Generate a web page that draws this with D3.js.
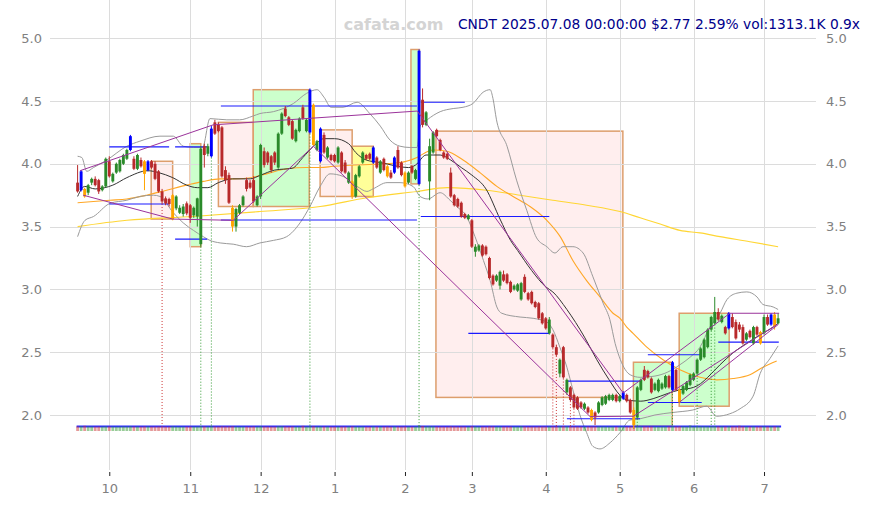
<!DOCTYPE html>
<html><head><meta charset="utf-8">
<script src="https://cdn.jsdelivr.net/npm/d3@7"></script>
<style>body{margin:0;background:#fff;}svg{display:block;font-family:"DejaVu Sans",sans-serif;}</style>
</head><body><svg id="c" width="871" height="505"></svg>
<script>
// ---- data ----
const titleText = "CNDT 2025.07.08 00:00:00 $2.77 2.59% vol:1313.1K 0.9x";
const watermark = "cafata.com";
const tickIdx = [9,32,52,73,93,112,133,154,175,195];
const tickLabels = ["10","11","12","1","2","3","4","5","6","7"];
const yTicks = [2.0,2.5,3.0,3.5,4.0,4.5,5.0];

const opens = [3.85,3.79,3.80,3.77,3.85,3.88,3.87,3.79,3.82,4.02,
3.86,3.93,3.94,4.00,4.04,4.11,4.04,3.96,4.03,4.02,
3.95,4.02,4.00,3.94,3.78,3.725,3.72,3.56,3.645,3.61,
3.60,3.685,3.67,3.59,3.58,3.36,4.14,4.08,4.06,4.33,
4.31,4.29,3.95,3.91,3.65,3.50,3.61,3.67,3.87,3.85,
3.87,3.67,3.74,4.10,4.09,4.06,4.09,3.97,4.24,4.44,
4.37,4.34,4.18,4.26,4.45,4.26,4.25,4.47,4.11,4.02,
4.23,4.05,4.07,4.07,4.01,4.09,4.01,3.85,3.86,3.74,
3.90,4.01,4.07,4.08,4.01,4.05,3.93,4.04,3.98,3.93,
3.93,4.11,4.01,3.93,3.85,3.98,3.88,3.84,4.51,4.31,
3.86,4.09,4.27,4.19,4.09,4.08,3.93,3.75,3.72,3.69,
3.60,3.56,3.55,3.30,3.31,3.35,3.34,3.25,3.11,3.07,
3.03,3.12,3.12,3.06,3.00,2.99,2.92,3.10,2.97,2.98,
2.90,2.89,2.81,2.77,2.65,2.64,2.54,2.33,2.54,2.18,
2.22,2.16,2.14,2.10,2.05,2.06,2.04,2.02,2.02,2.08,
2.09,2.12,2.12,2.16,2.11,2.13,2.16,2.12,2.04,1.98,
2.20,2.36,2.35,2.29,2.20,2.19,2.21,2.22,2.31,2.20,
2.36,2.20,2.17,2.20,2.24,2.28,2.33,2.44,2.46,2.54,
2.68,2.73,2.82,2.74,2.70,2.69,2.78,2.74,2.72,2.70,
2.60,2.67,2.57,2.70,2.66,2.65,2.78,2.72,2.80,2.73];
const highs = [3.99,3.95,3.81,3.84,3.89,3.90,3.88,3.83,4.05,4.06,
3.93,4.01,4.04,4.08,4.12,4.23,4.06,4.08,4.05,4.03,
4.03,4.03,4.02,3.95,3.80,3.74,3.73,3.76,3.75,3.67,
3.68,3.70,3.68,3.66,3.73,4.14,4.16,4.16,4.30,4.35,
4.33,4.30,3.98,3.93,3.67,3.65,3.68,3.75,3.89,3.87,
3.90,3.75,4.16,4.13,4.10,4.07,4.10,4.25,4.41,4.46,
4.38,4.35,4.28,4.37,4.47,4.36,4.60,4.48,4.19,4.29,
4.25,4.14,4.08,4.08,4.14,4.10,4.03,3.94,3.87,3.92,
3.99,4.10,4.08,4.09,4.14,4.06,4.03,4.05,3.99,3.95,
4.06,4.14,4.02,3.94,3.94,3.99,3.96,4.91,4.60,4.42,
4.20,4.26,4.28,4.20,4.10,4.09,3.97,3.76,3.73,3.70,
3.61,3.60,3.56,3.36,3.36,3.36,3.35,3.26,3.12,3.12,
3.15,3.15,3.13,3.07,3.04,3.05,3.06,3.12,2.98,2.99,
2.91,2.90,2.82,2.78,2.78,2.65,2.56,2.45,2.55,2.29,
2.23,2.17,2.15,2.11,2.10,2.07,2.05,2.03,2.11,2.15,
2.16,2.17,2.17,2.17,2.16,2.19,2.17,2.13,2.06,2.23,
2.29,2.39,2.36,2.30,2.26,2.29,2.26,2.32,2.32,2.43,
2.37,2.21,2.24,2.27,2.33,2.34,2.45,2.54,2.61,2.69,
2.79,2.94,2.85,2.80,2.71,2.82,2.81,2.76,2.74,2.72,
2.66,2.68,2.71,2.71,2.67,2.80,2.80,2.81,2.82,2.81];
const lows = [3.77,3.78,3.73,3.75,3.83,3.82,3.76,3.78,3.81,3.89,
3.85,3.92,3.93,3.99,4.03,4.10,3.95,3.95,3.97,3.79,
3.94,3.96,3.87,3.77,3.68,3.67,3.66,3.55,3.63,3.60,
3.58,3.59,3.53,3.57,3.50,3.34,3.97,4.06,4.05,4.23,
4.25,3.89,3.84,3.68,3.46,3.46,3.60,3.66,3.78,3.80,
3.69,3.66,3.72,3.97,3.99,3.93,3.99,3.96,4.23,4.37,
4.30,4.19,4.17,4.25,4.35,4.25,4.24,4.14,4.10,4.01,
4.08,4.04,4.02,4.01,4.00,3.93,3.92,3.84,3.72,3.73,
3.89,4.00,4.03,4.03,4.00,3.96,3.92,3.94,3.89,3.88,
3.92,3.96,3.90,3.81,3.84,3.92,3.87,3.83,4.29,4.30,
3.71,4.08,4.21,4.10,4.04,4.03,3.73,3.66,3.65,3.57,
3.56,3.55,3.33,3.26,3.30,3.26,3.27,3.08,3.03,3.06,
3.00,3.06,3.04,2.97,2.99,2.98,2.91,2.97,2.91,2.88,
2.85,2.76,2.72,2.68,2.64,2.53,2.47,2.30,2.29,2.16,
2.11,2.05,2.04,2.05,2.04,2.01,1.95,1.92,2.01,2.07,
2.08,2.11,2.11,2.10,2.10,2.12,2.10,2.01,1.89,1.97,
2.19,2.27,2.29,2.17,2.19,2.18,2.20,2.21,2.21,2.19,
2.19,2.09,2.16,2.19,2.23,2.27,2.32,2.43,2.45,2.53,
2.67,2.72,2.75,2.73,2.64,2.68,2.69,2.60,2.66,2.56,
2.59,2.61,2.56,2.63,2.56,2.64,2.71,2.71,2.68,2.72];
const closes = [3.78,3.94,3.74,3.83,3.88,3.83,3.78,3.82,4.04,3.90,
3.92,4.00,4.03,4.07,4.11,4.22,3.96,4.07,3.98,3.92,
4.02,3.97,3.88,3.78,3.70,3.685,3.68,3.75,3.74,3.65,
3.66,3.605,3.57,3.65,3.725,4.12,4.07,4.14,4.28,4.24,
4.26,3.90,3.87,3.69,3.50,3.64,3.67,3.74,3.80,3.81,
3.70,3.74,4.15,3.99,4.01,3.95,4.01,4.24,4.40,4.38,
4.31,4.20,4.27,4.36,4.36,4.35,4.59,4.15,4.18,4.28,
4.09,4.13,4.03,4.02,4.13,3.94,3.93,3.93,3.74,3.91,
3.98,4.09,4.04,4.04,4.13,3.97,4.02,3.95,3.90,3.89,
4.05,3.97,3.91,3.82,3.93,3.93,3.95,4.90,4.31,4.41,
4.14,4.25,4.22,4.11,4.05,4.04,3.74,3.67,3.66,3.58,
3.57,3.59,3.34,3.34,3.35,3.27,3.28,3.09,3.04,3.11,
3.14,3.07,3.05,2.98,3.03,3.04,3.05,2.98,2.92,2.89,
2.86,2.77,2.73,2.69,2.76,2.54,2.48,2.44,2.30,2.28,
2.12,2.06,2.05,2.06,2.09,2.02,1.96,1.98,2.10,2.14,
2.15,2.16,2.16,2.11,2.15,2.18,2.11,2.02,1.92,2.22,
2.28,2.28,2.30,2.18,2.25,2.28,2.25,2.31,2.22,2.42,
2.20,2.10,2.23,2.26,2.32,2.33,2.44,2.53,2.60,2.68,
2.78,2.82,2.76,2.79,2.65,2.81,2.70,2.61,2.68,2.57,
2.65,2.62,2.70,2.64,2.57,2.78,2.72,2.80,2.70,2.77];
const volumes = [1450,1620,3900,1280,1150,1090,1240,980,1710,1330,1060,1120,1250,1390,1470,1880,1210,1160,1040,1520,
1330,1080,1270,1410,1560,1190,1050,1640,1230,990,1010,1150,1320,1100,1270,3100,1450,1120,1980,1390,
1180,2050,1510,1620,1840,1300,1020,1090,1160,1010,1380,1070,2260,1400,1150,1230,1080,2110,1870,1500,
1240,1310,1090,1170,3800,1200,2350,1950,1310,1460,1290,1180,1040,1020,1130,1280,1190,1240,1550,1270,
1150,1220,1010,980,1330,1190,1110,1230,1370,1060,1410,1290,1180,1510,1120,1080,1170,6200,2900,1640,
2400,1720,1300,1190,1080,1050,1980,1520,1240,1430,1160,1050,2340,1570,1240,1180,1120,1920,1460,1170,
1330,1140,1210,1280,1090,1150,2600,1370,1160,1230,1110,1560,1420,1350,1290,1700,1480,1830,2250,1740,
1510,1430,1280,1200,1160,1350,1620,1490,1310,1220,1180,1140,1090,1050,1110,1260,1170,1380,2100,1950,
1420,1390,1210,1300,1150,1120,1090,1180,1250,1860,1470,1690,1330,1210,7800,1160,1740,1620,1800,1550,
1890,2400,1520,1390,1300,1650,1410,1580,4600,1370,1220,1280,1350,1190,1420,1600,1260,1380,1510,1313];
const blueCandles = [1,15,20,38,66,69,84,90,97,155,169,185,197];
const orangeCandles = [2,19,27,44,67,78,88,93,146,158,171,194,198];

// overlay lines: [index, price]
const midBand = [[0,3.74],[2,3.82],[5,3.80],[10,3.83],[14,3.89],[20,3.945],[23,3.93],[27,3.89],[31,3.83],[34,3.81],[37,3.81],[40,3.85],[44,3.88],[49,3.88],[52,3.91],[56,3.95],[61,3.965],[64,4.05],[67,4.14],[70,4.20],[73,4.20],[77,4.16],[79,4.09],[82,4.03],[86,4.01],[94,3.97],[96,3.99],[99,4.07],[103,4.07],[106,4.03],[109,3.97],[112,3.91],[116,3.80],[120,3.56],[123,3.39],[125,3.31],[129,3.15],[133,3.02],[135,2.98],[139,2.84],[144,2.62],[147.5,2.44],[151,2.28],[154,2.16],[156,2.12],[160,2.11],[163.5,2.13],[167.5,2.17],[171,2.20],[175,2.22],[177,2.25],[179,2.30],[182.5,2.40],[186,2.49],[190,2.57],[194,2.64],[197.6,2.70],[199,2.73]];
const upperBand = [[0,4.06],[1.2,4.05],[2.6,3.94],[4.5,3.97],[8.3,4.03],[14,4.14],[17.7,4.18],[23.4,4.22],[27.2,4.22],[30,4.14],[33,4.13],[35.5,4.13],[37.6,4.36],[42.4,4.35],[46,4.35],[49.8,4.38],[51.8,4.40],[55.6,4.415],[61.3,4.48],[65,4.56],[68,4.59],[70,4.53],[72,4.45],[75.4,4.45],[79.4,4.49],[83,4.40],[86,4.30],[88.7,4.19],[91.6,4.14],[94.4,4.13],[96.4,4.13],[97.3,4.30],[99.3,4.35],[103,4.415],[106.7,4.44],[109.5,4.45],[112.3,4.48],[115.2,4.57],[117.2,4.59],[118,4.52],[119,4.35],[122,4.14],[124.7,3.87],[127.6,3.63],[130.4,3.41],[133.3,3.34],[135.6,3.29],[137.9,3.34],[140.7,3.34],[143.6,3.29],[146.4,3.10],[149.3,2.89],[151.2,2.76],[152.7,2.57],[154.2,2.44],[157,2.32],[159.8,2.30],[164,2.31],[167.5,2.34],[171.1,2.40],[174,2.46],[176.8,2.54],[179.6,2.70],[182.5,2.81],[184.5,2.92],[187.3,2.97],[190.1,2.98],[193,2.94],[194.7,2.88],[197.6,2.86],[199,2.84]];
const lowerBand = [[0,3.42],[2.1,3.55],[4.5,3.58],[9.2,3.685],[14,3.71],[17.7,3.74],[21.5,3.75],[23.4,3.74],[27.2,3.61],[30,3.53],[32.9,3.47],[35.7,3.42],[37.6,3.39],[40.5,3.37],[44.2,3.36],[48,3.34],[51.8,3.37],[55.6,3.39],[59.4,3.42],[63.2,3.53],[66,3.66],[68.9,3.82],[71.7,3.92],[75.4,3.90],[79.4,3.82],[82.2,3.78],[83.9,3.80],[87.9,3.85],[91.6,3.85],[95.3,3.82],[97.3,3.74],[99.5,3.72],[103,3.77],[105.8,3.71],[107.7,3.66],[110.5,3.58],[112.9,3.42],[115.3,3.23],[117.2,3.07],[119.1,2.86],[120.5,2.81],[125.7,2.78],[129.4,2.77],[133.3,2.74],[135,2.68],[137,2.54],[139,2.38],[140.7,2.20],[142.7,2.00],[144.6,1.86],[146.4,1.75],[148.4,1.73],[151.3,1.78],[154.1,1.86],[156.9,1.96],[159.8,1.97],[164,2.00],[169.1,2.02],[174.8,2.04],[178.7,2.07],[181.5,1.99],[185.3,2.01],[188.2,2.05],[191.9,2.15],[193.9,2.33],[196.7,2.45],[199,2.55]];
const orangeMA = [[0,3.69],[4.5,3.70],[9.2,3.71],[14,3.72],[19.6,3.75],[25.3,3.79],[31,3.83],[35.7,3.86],[40.5,3.88],[44.2,3.88],[48,3.885],[53.7,3.92],[59.4,3.96],[65,3.97],[68.9,3.97],[72.6,3.98],[91.6,4.01],[96.4,4.05],[99.6,4.10],[101,4.11],[104.9,4.10],[109.5,4.03],[114.3,3.93],[119.1,3.82],[123.7,3.74],[128.5,3.66],[133.3,3.55],[137.1,3.42],[140.7,3.23],[144.6,3.07],[148.4,2.94],[152.1,2.81],[154.1,2.77],[156,2.70],[157.8,2.65],[161.7,2.54],[166.3,2.44],[171.1,2.36],[176.8,2.30],[181.6,2.28],[186.2,2.29],[191,2.32],[194.7,2.38],[198.6,2.43]];
const yellowMA = [[0,3.50],[14,3.55],[32.8,3.58],[51.8,3.62],[68.9,3.66],[82.2,3.73],[96.4,3.78],[105,3.81],[116.2,3.79],[125.7,3.75],[135,3.71],[144.6,3.67],[154.1,3.62],[159.8,3.57],[165.5,3.52],[171.1,3.47],[176.8,3.45],[182.5,3.42],[191,3.38],[199,3.34]];
const purpleLines = [
  [[0.7,3.945],[38.5,4.31],[96.5,4.42],[155,2.175],[185.3,2.81],[199.3,2.81]],
  [[1.6,3.75],[27,3.56],[44.2,3.55],[67,4.14],[145.6,1.987],[157.9,1.99],[198.6,2.72]],
  [[170.9,2.10],[199,2.72]]
];
// horizontal levels: [fromIndex, toIndex, price]
const levels = [[9,26,4.135],[27.7,36.8,4.135],[9,26,3.68],[27.7,36.8,3.40],[40.7,96.4,4.46],[40.7,96.4,3.553],[97.5,110,4.49],[97.5,134,3.58],[111,134,2.65],[139,159.8,2.27],[139,159.8,1.97],[162,177.3,2.48],[162,177.3,2.10],[182,199.2,2.58]];
// boxes: [fromIndex, toIndex, top, bottom, kind]
const boxes = [[20.9,27,4.02,3.56,"pink"],[32,35,4.16,3.34,"green"],[40,49.9,4.33,3.66,"pink"],[49.9,65.8,4.59,3.66,"green"],[68.9,78,4.27,3.74,"pink"],[78,84,4.14,3.74,"yellow"],[94.7,97.1,4.91,3.84,"green"],[101.8,154.9,4.26,2.14,"pink"],[157.9,168.9,2.42,1.91,"green"],[170.9,185.1,2.81,2.07,"green"]];
const dotsRed = [24,135,136,138,140,141];
const dotsGreen = [35,38,66,97,158,159,169,176,180,181];

// ---- drawing ----
const svg = d3.select("#c");
const x = d3.scaleLinear().domain([0,199]).range([77.6,778.1]);
const y = d3.scaleLinear().domain([2,5]).range([415,38.2]);
const volBase = 431;
const vh = d3.scaleLog().domain([1,10000]).range([0,5.8]);

const boxFill = {pink:"#ffeeee", green:"#ccffcc", yellow:"#ffff99"};
svg.append("g").selectAll("rect").data(boxes).join("rect")
  .attr("x",d=>x(d[0])).attr("y",d=>y(d[2]))
  .attr("width",d=>x(d[1])-x(d[0])).attr("height",d=>y(d[3])-y(d[2]))
  .attr("fill",d=>boxFill[d[4]]).attr("stroke","#dd9e6c").attr("stroke-width",1.5);

// grid
const grid = svg.append("g").attr("stroke","#dcdcdc").attr("stroke-width",1);
grid.selectAll("line.h").data(yTicks).join("line").attr("class","h")
  .attr("x1",50).attr("x2",816).attr("y1",d=>Math.round(y(d))+0.5).attr("y2",d=>Math.round(y(d))+0.5);
grid.selectAll("line.v").data(tickIdx).join("line").attr("class","v")
  .attr("y1",0).attr("y2",470).attr("x1",d=>Math.round(x(d))+0.5).attr("x2",d=>Math.round(x(d))+0.5);

// axes
const xAxis = d3.axisBottom(x).tickValues(tickIdx).tickFormat((d,i)=>tickLabels[i]).tickSize(4).tickPadding(8);
const gx = svg.append("g").attr("transform","translate(0,472)").call(xAxis);
gx.select(".domain").remove();
gx.selectAll("line").attr("stroke","#222");
gx.selectAll("text").attr("fill","#808080").attr("font-size",13).attr("font-family","DejaVu Sans");
const gl = svg.append("g").attr("transform","translate(45,0)").call(d3.axisLeft(y).tickValues(yTicks).tickFormat(d3.format(".1f")).tickSize(0).tickPadding(3));
const gr = svg.append("g").attr("transform","translate(823,0)").call(d3.axisRight(y).tickValues(yTicks).tickFormat(d3.format(".1f")).tickSize(0).tickPadding(3));
[gl,gr].forEach(g=>{g.select(".domain").remove();g.selectAll("text").attr("fill","#808080").attr("font-size",13).attr("font-family","DejaVu Sans");});

// lines
const line = d3.line().x(d=>x(d[0])).y(d=>y(d[1])).curve(d3.curveMonotoneX);
const straight = d3.line().x(d=>x(d[0])).y(d=>y(d[1]));
svg.append("path").attr("d",line(yellowMA)).attr("fill","none").attr("stroke","#ffd633").attr("stroke-width",1.1);
svg.append("path").attr("d",line(orangeMA)).attr("fill","none").attr("stroke","#ffa726").attr("stroke-width",1.1);
[upperBand,lowerBand].forEach(b=>svg.append("path").attr("d",line(b)).attr("fill","none").attr("stroke","#9a9a9a").attr("stroke-width",1));
svg.append("path").attr("d",line(midBand)).attr("fill","none").attr("stroke","#333").attr("stroke-width",1);

// volume
const vg = svg.append("g");
const vMean = d3.mean(volumes);
vg.append("line").attr("x1",x(0)-1).attr("x2",x(199)+3).attr("y1",volBase-vh(vMean)).attr("y2",volBase-vh(vMean))
  .attr("stroke","#2a2aff").attr("stroke-width",2);
vg.selectAll("rect").data(volumes).join("rect")
  .attr("x",(d,i)=>x(i)-1.4).attr("width",2.8)
  .attr("y",d=>volBase-vh(d)).attr("height",d=>vh(d))
  .attr("fill",(d,i)=>closes[i]>=opens[i]?"#339933":"#cc3333").attr("opacity",0.5);

// dotted verticals
const dg = svg.append("g").attr("stroke-dasharray","1,2").attr("stroke-width",1);
dg.selectAll("line.r").data(dotsRed).join("line").attr("class","r")
  .attr("x1",d=>x(d)).attr("x2",d=>x(d)).attr("y1",d=>y(lows[d])).attr("y2",volBase-vh(vMean)).attr("stroke","#cc3333");
dg.selectAll("line.g").data(dotsGreen).join("line").attr("class","g")
  .attr("x1",d=>x(d)).attr("x2",d=>x(d)).attr("y1",d=>y(lows[d])).attr("y2",volBase-vh(vMean)).attr("stroke","#339933");

// levels
svg.append("g").selectAll("line").data(levels).join("line")
  .attr("x1",d=>x(d[0])).attr("x2",d=>x(d[1])).attr("y1",d=>y(d[2])).attr("y2",d=>y(d[2]))
  .attr("stroke","#1a1aff").attr("stroke-width",1.1);

// candles
const idx = d3.range(opens.length);
const colorOf = i => blueCandles.includes(i) ? "#0000ff" : orangeCandles.includes(i) ? "#ffa500" : (closes[i]>=opens[i] ? "#2a8a2a" : "#b8292b");
const cg = svg.append("g");
cg.selectAll("line").data(idx).join("line")
  .attr("x1",i=>x(i)).attr("x2",i=>x(i)).attr("y1",i=>y(highs[i])).attr("y2",i=>y(lows[i]))
  .attr("stroke",colorOf).attr("stroke-width",1);
cg.selectAll("rect").data(idx).join("rect")
  .attr("x",i=>x(i)-1.45).attr("width",2.9)
  .attr("y",i=>y(Math.max(opens[i],closes[i])))
  .attr("height",i=>Math.max(1,Math.abs(y(opens[i])-y(closes[i]))))
  .attr("fill",colorOf);

// purple trend lines
svg.append("g").selectAll("path").data(purpleLines).join("path")
  .attr("d",straight).attr("fill","none").attr("stroke","#9b339b").attr("stroke-width",1);

// title
svg.append("text").attr("x",393.5).attr("y",30).attr("text-anchor","middle")
  .attr("font-size",16).attr("font-weight","bold").attr("fill","#d4d4d4").text(watermark);
svg.append("text").attr("x",860).attr("y",28.5).attr("text-anchor","end")
  .attr("font-size",13.8).attr("fill","#00008b").text(titleText);
</script></body></html>
